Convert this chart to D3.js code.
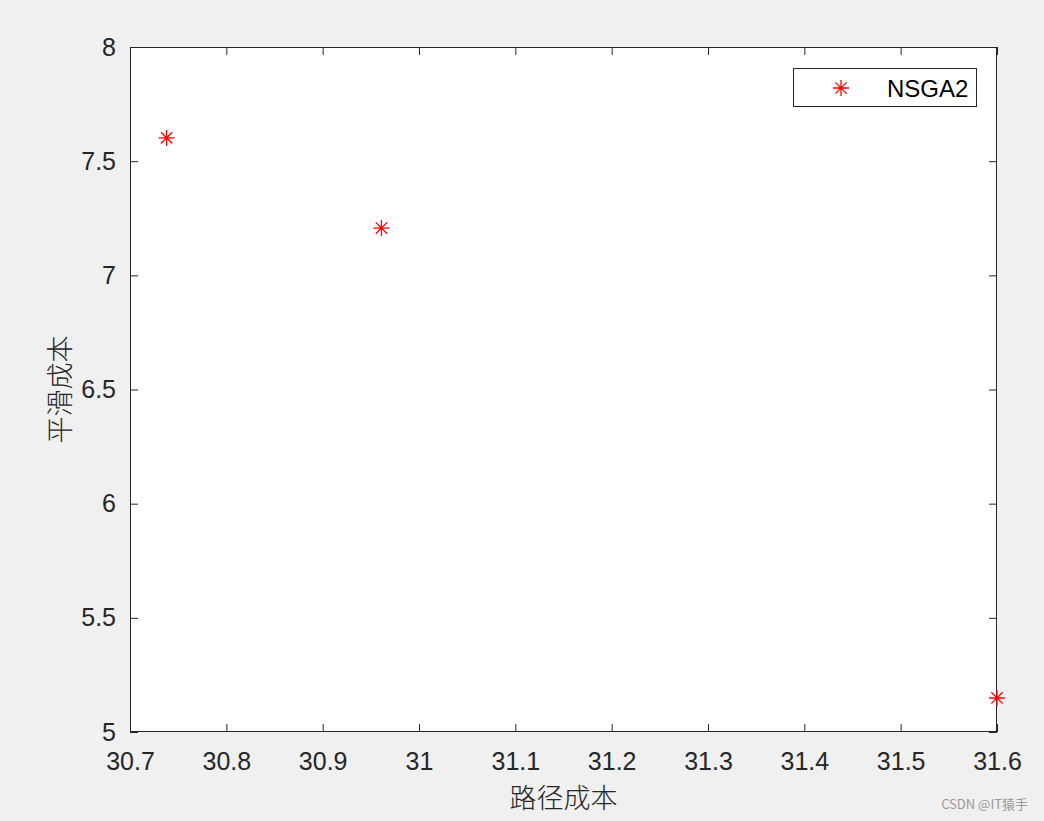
<!DOCTYPE html>
<html>
<head>
<meta charset="utf-8">
<script src="https://cdn.jsdelivr.net/npm/d3@7"></script>
<style>
  body { margin: 0; background: #f0f0f0; }
  svg { display: block; }
</style>
</head>
<body>
<svg id="chart"></svg>
<script>
const w = 1044;
const h = 821;

// data
const pathCost = [30.738, 30.961, 31.6];
const smoothCost = [7.602, 7.207, 5.149];
const seriesName = 'NSGA2';
const xTicks = [30.7, 30.8, 30.9, 31, 31.1, 31.2, 31.3, 31.4, 31.5, 31.6];
const yTicks = [5, 5.5, 6, 6.5, 7, 7.5, 8];

const padL = 130, padR = 997, padT = 47, padB = 732;
const axisColor = '#262626';
const tickFont = '25px "Liberation Sans", Arial, sans-serif';
const cjkFont = '"Noto Sans CJK SC", sans-serif';

let canvas = d3.select('#chart').attr('width', w).attr('height', h);

let xScale = d3.scaleLinear().domain([30.7, 31.6]).range([padL, padR]);
let yScale = d3.scaleLinear().domain([5, 8]).range([padB, padT]);

// plot background
canvas.append('rect')
  .attr('x', padL).attr('y', padT)
  .attr('width', padR - padL).attr('height', padB - padT)
  .attr('fill', '#fff');

const styleAxis = (g) => {
  g.select('.domain').remove();
  g.selectAll('line').attr('stroke', axisColor);
  g.selectAll('text').style('font', tickFont).attr('fill', axisColor);
};

const fmt = d3.format('~g');

canvas.append('g')
  .attr('transform', `translate(0,${padB})`)
  .call(d3.axisBottom(xScale).tickValues(xTicks).tickFormat(fmt).tickSizeInner(-8).tickSizeOuter(0).tickPadding(20))
  .call(styleAxis);
canvas.append('g')
  .attr('transform', `translate(0,${padT})`)
  .call(d3.axisTop(xScale).tickValues(xTicks).tickFormat('').tickSizeInner(-8).tickSizeOuter(0))
  .call(styleAxis);
canvas.append('g')
  .attr('transform', `translate(${padL},0)`)
  .call(d3.axisLeft(yScale).tickValues(yTicks).tickFormat(fmt).tickSizeInner(-8).tickSizeOuter(0).tickPadding(14))
  .call(styleAxis);
canvas.append('g')
  .attr('transform', `translate(${padR},0)`)
  .call(d3.axisRight(yScale).tickValues(yTicks).tickFormat('').tickSizeInner(-8).tickSizeOuter(0))
  .call(styleAxis);

// box
canvas.append('rect')
  .attr('x', padL + 0.5).attr('y', padT + 0.5)
  .attr('width', padR - padL - 1).attr('height', padB - padT - 1)
  .attr('fill', 'none').attr('stroke', axisColor).attr('stroke-width', 1);

// asterisk marker
const star = (sel, r) => {
  const d = [];
  for (let i = 0; i < 4; i++) {
    const a = i * Math.PI / 4;
    const dx = Math.cos(a) * r, dy = Math.sin(a) * r;
    d.push(`M${-dx},${-dy}L${dx},${dy}`);
  }
  sel.append('path').attr('d', d.join('')).attr('stroke', '#ff0000').attr('stroke-width', 1.3).attr('fill', 'none');
};

const pts = pathCost.map((x, i) => ({ x: x, y: smoothCost[i] }));
canvas.selectAll('g.pt')
  .data(pts)
  .enter()
  .append('g')
  .attr('class', 'pt')
  .attr('transform', (d) => `translate(${xScale(d.x)},${yScale(d.y)})`)
  .each(function () { star(d3.select(this), 8); });

// legend
const legend = canvas.append('g');
legend.append('rect')
  .attr('x', 793.5).attr('y', 68.5).attr('width', 183).attr('height', 38)
  .attr('fill', '#fff').attr('stroke', axisColor);
star(legend.append('g').attr('transform', 'translate(841,88)'), 8);
legend.append('text')
  .attr('x', 887).attr('y', 97)
  .style('font', '24px "Liberation Sans", Arial, sans-serif')
  .attr('fill', '#000')
  .text(seriesName);

// axis labels
canvas.append('text')
  .attr('x', (padL + padR) / 2).attr('y', 808)
  .attr('text-anchor', 'middle')
  .style('font-family', cjkFont).style('font-size', '27px').style('font-weight', 300)
  .attr('fill', axisColor)
  .text('路径成本');
canvas.append('text')
  .attr('transform', `translate(70,${(padT + padB) / 2}) rotate(-90)`)
  .attr('text-anchor', 'middle')
  .style('font-family', cjkFont).style('font-size', '27px').style('font-weight', 300)
  .attr('fill', axisColor)
  .text('平滑成本');

// watermark
canvas.append('text')
  .attr('x', 1028).attr('y', 809)
  .attr('text-anchor', 'end')
  .style('font-family', '"Noto Sans CJK SC", sans-serif').style('font-size', '13px')
  .attr('fill', '#999')
  .text('CSDN @IT猿手');
</script>
</body>
</html>
